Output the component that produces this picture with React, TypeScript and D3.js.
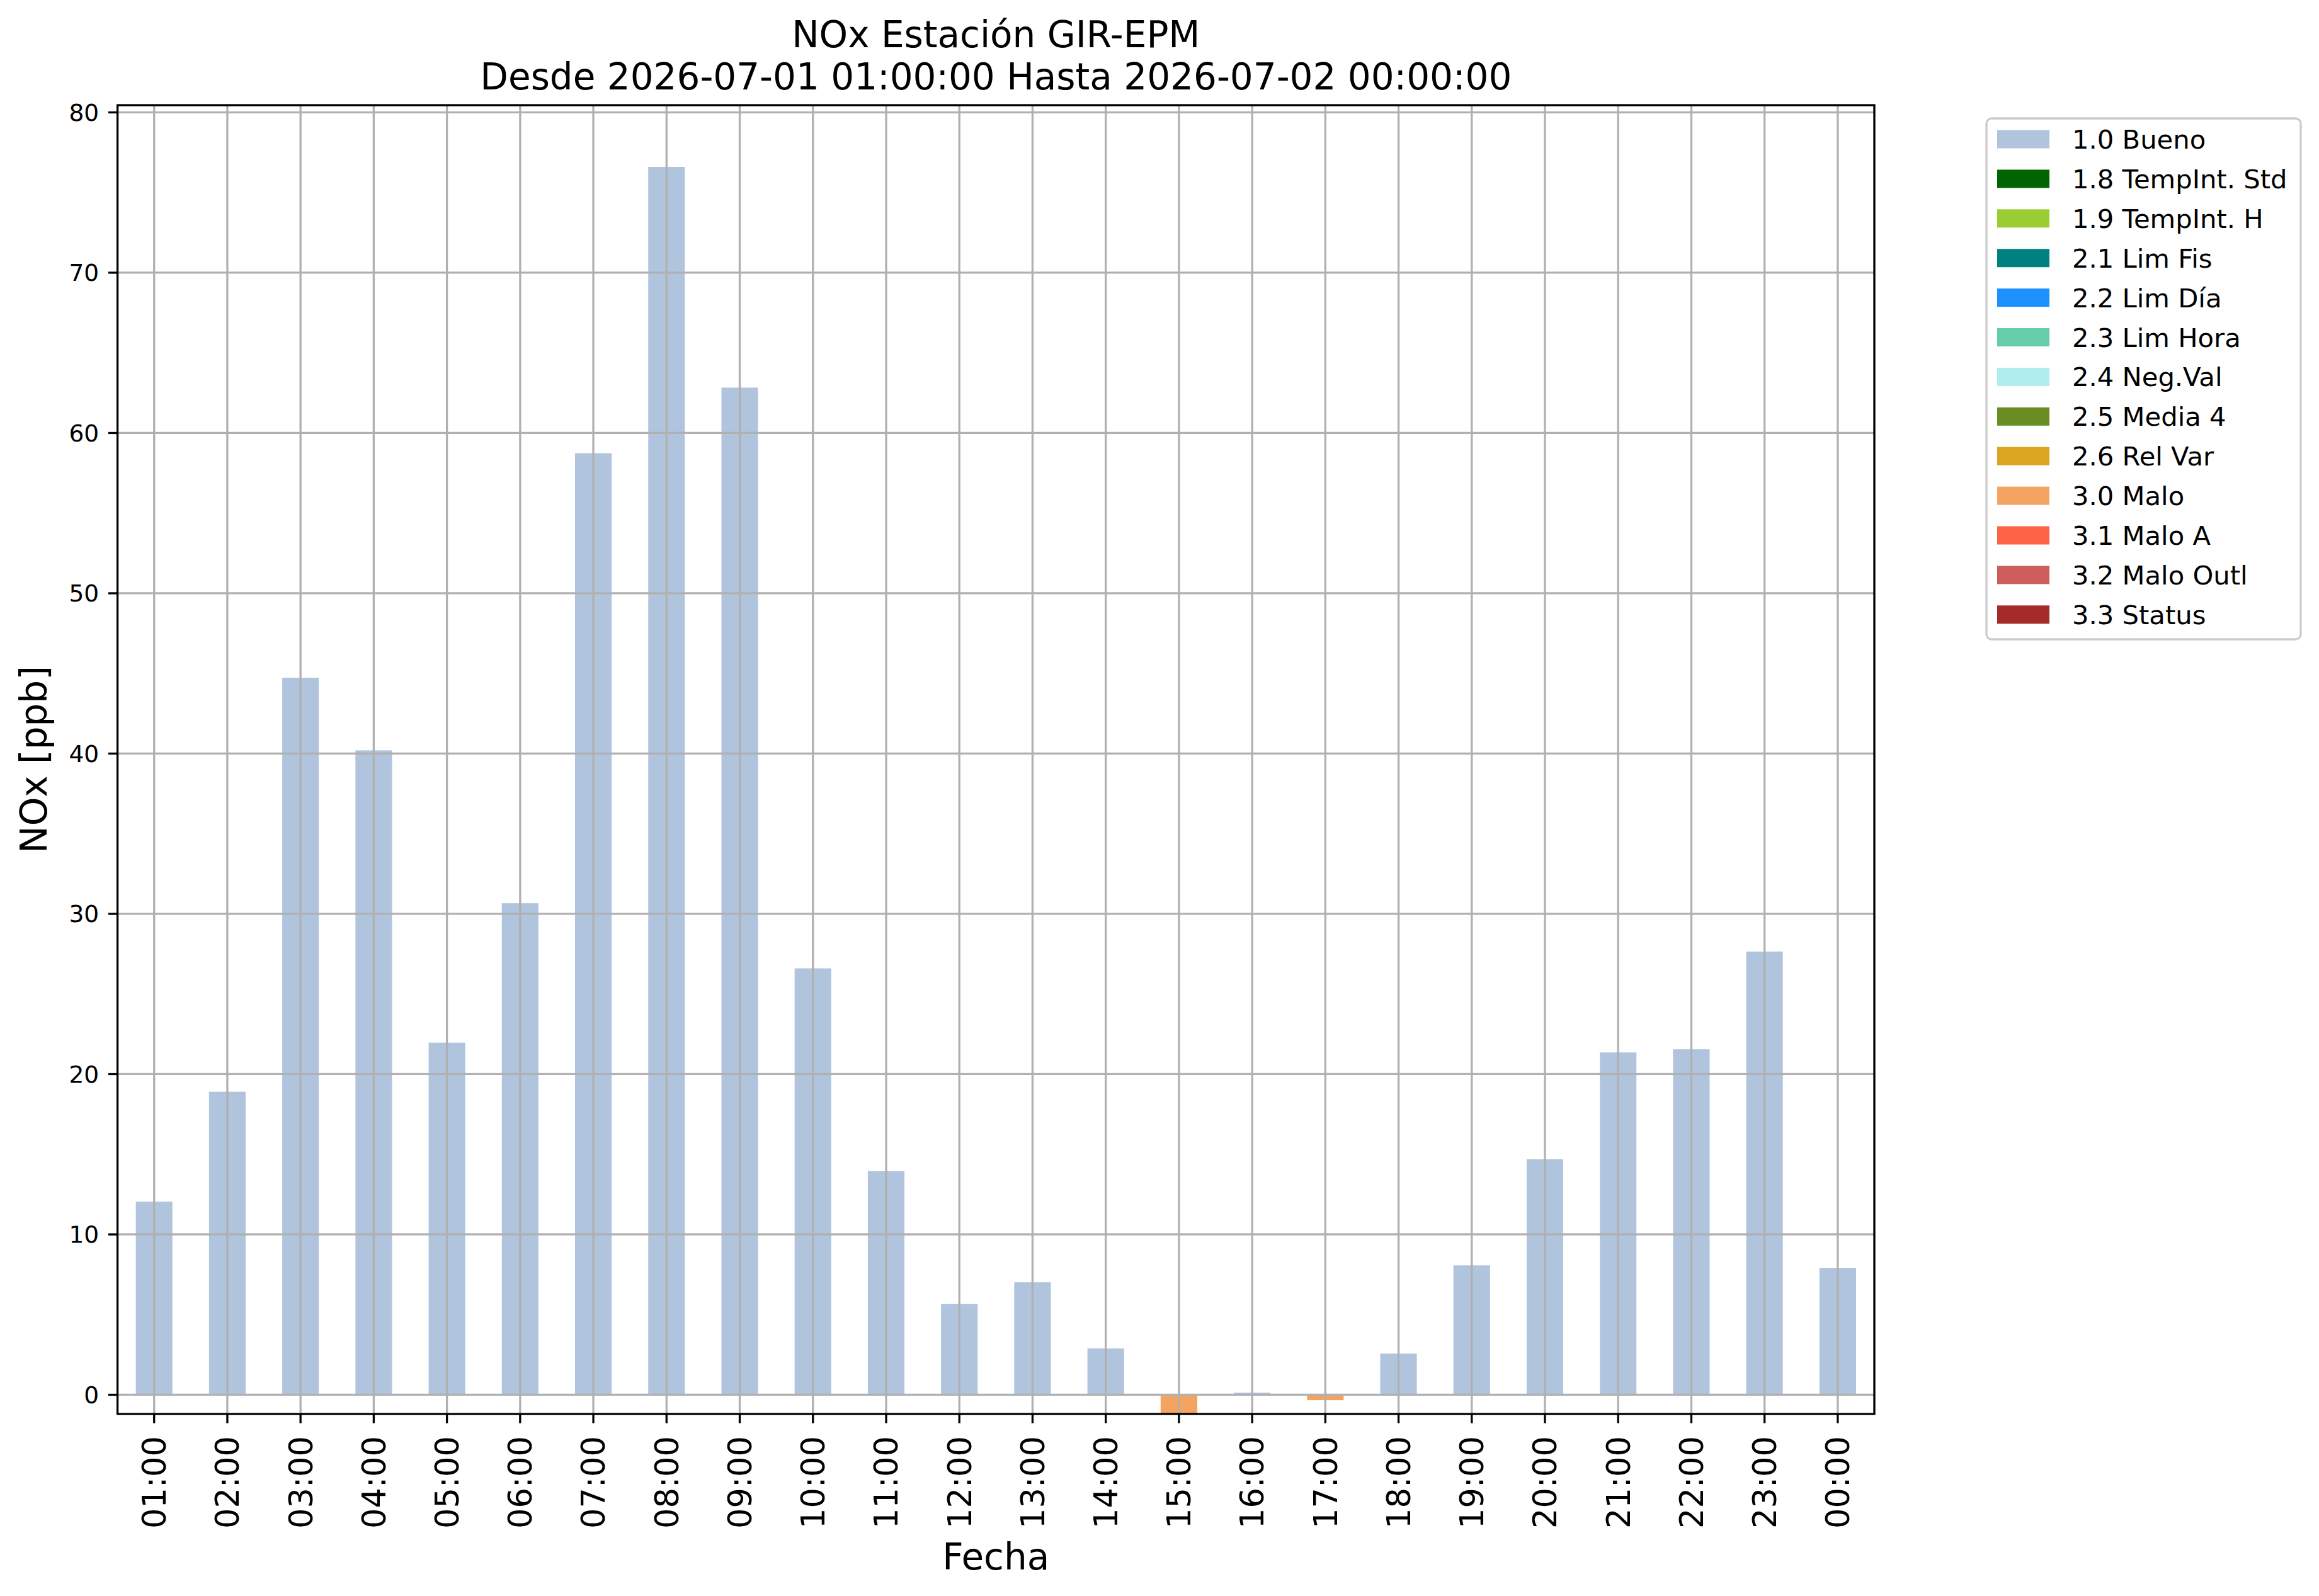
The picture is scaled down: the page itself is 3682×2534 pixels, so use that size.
import { useEffect } from 'react';
import * as d3 from 'd3';

const hours = [
  '01:00', '02:00', '03:00', '04:00', '05:00', '06:00', '07:00', '08:00',
  '09:00', '10:00', '11:00', '12:00', '13:00', '14:00', '15:00', '16:00',
  '17:00', '18:00', '19:00', '20:00', '21:00', '22:00', '23:00', '00:00',
];
const noxValues = [
  12.05, 18.9, 44.73, 40.2, 21.96, 30.66, 58.74, 76.6,
  62.83, 26.6, 13.96, 5.67, 7.02, 2.89, -1.5, 0.13,
  -0.34, 2.57, 8.07, 14.7, 21.36, 21.55, 27.65, 7.91,
];
const noxFlags = [
  '1.0', '1.0', '1.0', '1.0', '1.0', '1.0', '1.0', '1.0',
  '1.0', '1.0', '1.0', '1.0', '1.0', '1.0', '3.0', '1.0',
  '3.0', '1.0', '1.0', '1.0', '1.0', '1.0', '1.0', '1.0',
];
const flagCodes = ['1.0', '1.8', '1.9', '2.1', '2.2', '2.3', '2.4', '2.5', '2.6', '3.0', '3.1', '3.2', '3.3'];
const flagLabels = [
  '1.0 Bueno', '1.8 TempInt. Std', '1.9 TempInt. H', '2.1 Lim Fis', '2.2 Lim Día',
  '2.3 Lim Hora', '2.4 Neg.Val', '2.5 Media 4', '2.6 Rel Var', '3.0 Malo',
  '3.1 Malo A', '3.2 Malo Outl', '3.3 Status',
];
const flagColors = [
  '#b0c4de', '#006400', '#9acd32', '#008080', '#1e90ff', '#66cdaa', '#afeeee',
  '#6b8e23', '#daa520', '#f4a460', '#ff6347', '#cd5c5c', '#a52a2a',
];
const yTicks = [0, 10, 20, 30, 40, 50, 60, 70, 80];

const W = 3682;
const H = 2534;
const plot = { left: 186.6, right: 2976, top: 167, bottom: 2245 };
const font = '"DejaVu Sans", sans-serif';
const lw = 3.3;

export default function App() {
  useEffect(() => {
    document.body.style.margin = '0';
  }, []);

  const x = d3.scaleBand<string>()
    .domain(hours)
    .range([plot.left, plot.right])
    .paddingInner(0.5)
    .paddingOuter(0.25);

  const y = d3.scaleLinear()
    .domain([-1.2, 80.45])
    .range([plot.bottom, plot.top]);

  const color = d3.scaleOrdinal<string, string>().domain(flagCodes).range(flagColors);
  const center = (h: string) => (x(h) ?? 0) + x.bandwidth() / 2;

  const legend = { x: 3154, y: 188, w: 499, h: 827, row: 62.9, first: 221 };

  return (
    <svg width={W} height={H} viewBox={`0 0 ${W} ${H}`} style={{ display: 'block', background: '#fff' }}>
      <defs>
        <clipPath id="plot-clip">
          <rect x={plot.left} y={plot.top} width={plot.right - plot.left} height={plot.bottom - plot.top} />
        </clipPath>
      </defs>

      {/* bars */}
      <g clipPath="url(#plot-clip)">
        {hours.map((h, i) => {
          const v = noxValues[i];
          return (
            <rect
              key={h}
              x={x(h)}
              width={x.bandwidth()}
              y={Math.min(y(v), y(0))}
              height={Math.abs(y(v) - y(0))}
              fill={color(noxFlags[i])}
            />
          );
        })}
      </g>

      {/* grid above bars, like matplotlib */}
      <g stroke="#b0b0b0" strokeWidth={lw}>
        {yTicks.map((t) => (
          <line key={t} x1={plot.left} x2={plot.right} y1={y(t)} y2={y(t)} />
        ))}
        {hours.map((h) => (
          <line key={h} x1={center(h)} x2={center(h)} y1={plot.top} y2={plot.bottom} />
        ))}
      </g>

      {/* spines */}
      <rect
        x={plot.left}
        y={plot.top}
        width={plot.right - plot.left}
        height={plot.bottom - plot.top}
        fill="none"
        stroke="#000"
        strokeWidth={lw}
      />

      {/* y axis */}
      <g fontFamily={font} fontSize={37.5}>
        {yTicks.map((t) => (
          <g key={t}>
            <line x1={plot.left - 14.6} x2={plot.left} y1={y(t)} y2={y(t)} stroke="#000" strokeWidth={lw} />
            <text x={plot.left - 29.5} y={y(t)} dy="0.36em" textAnchor="end">{t}</text>
          </g>
        ))}
      </g>

      {/* x axis */}
      <g fontFamily={font} fontSize={51}>
        {hours.map((h) => (
          <g key={h}>
            <line x1={center(h)} x2={center(h)} y1={plot.bottom} y2={plot.bottom + 14.6} stroke="#000" strokeWidth={lw} />
            <text
              transform={`translate(${center(h)},${plot.bottom + 35}) rotate(-90)`}
              dy="0.36em"
              textAnchor="end"
            >
              {h}
            </text>
          </g>
        ))}
      </g>

      {/* labels and title */}
      <g fontFamily={font} fontSize={58} textAnchor="middle">
        <text x={(plot.left + plot.right) / 2} y={2492}>Fecha</text>
        <text transform={`translate(74,${(plot.top + plot.bottom) / 2}) rotate(-90)`}>NOx [ppb]</text>
        <text x={(plot.left + plot.right) / 2} y={75}>NOx Estación GIR-EPM</text>
        <text x={(plot.left + plot.right) / 2} y={142}>Desde 2026-07-01 01:00:00 Hasta 2026-07-02 00:00:00</text>
      </g>

      {/* legend */}
      <g fontFamily={font} fontSize={41.7}>
        <rect
          x={legend.x}
          y={legend.y}
          width={legend.w}
          height={legend.h}
          rx={8}
          fill="#fff"
          fillOpacity={0.8}
          stroke="#cccccc"
          strokeWidth={lw}
        />
        {flagLabels.map((label, i) => {
          const cy = legend.first + i * legend.row;
          return (
            <g key={label}>
              <rect x={3171} y={cy - 14.5} width={83} height={29} fill={color(flagCodes[i])} />
              <text x={3290} y={cy} dy="0.36em">{label}</text>
            </g>
          );
        })}
      </g>
    </svg>
  );
}
